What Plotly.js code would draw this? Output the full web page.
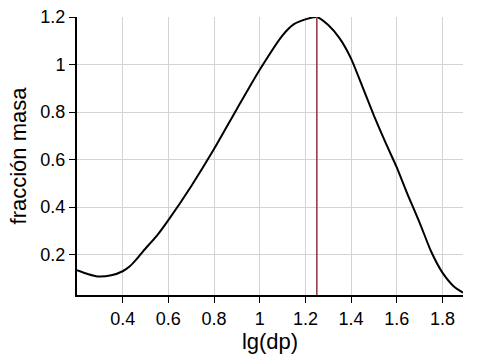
<!DOCTYPE html>
<html><head><meta charset="utf-8">
<script src="https://cdn.plot.ly/plotly-3.0.1.min.js"></script>
<style>html,body{margin:0;padding:0;background:#fff}</style>
</head><body><div id="chart" style="width:482px;height:364px"></div>
<script>
const lgdp = [0.2, 0.25, 0.29, 0.35, 0.4, 0.43, 0.46, 0.49, 0.55, 0.6, 0.7, 0.8, 0.9, 1.0, 1.1, 1.15, 1.2, 1.25, 1.3, 1.35, 1.4, 1.45, 1.5, 1.55, 1.6, 1.65, 1.7, 1.75, 1.8, 1.85, 1.89];
const fraccion = [0.134, 0.117, 0.108, 0.113, 0.13, 0.15, 0.18, 0.215, 0.28, 0.345, 0.488, 0.644, 0.813, 0.978, 1.123, 1.17, 1.19, 1.2, 1.166, 1.11, 1.025, 0.906, 0.785, 0.673, 0.567, 0.447, 0.335, 0.214, 0.124, 0.066, 0.04];
const peakX = 1.25;
const xRange = [0.2, 1.89];
const yRange = [0.03, 1.2];
const xTicks = [0.4, 0.6, 0.8, 1, 1.2, 1.4, 1.6, 1.8];
const yTicks = [0.2, 0.4, 0.6, 0.8, 1, 1.2];

const font = {family: 'Liberation Sans, Arial, sans-serif', color: '#000'};
Plotly.newPlot('chart', [
  {x: lgdp, y: fraccion, mode: 'lines', line: {color: '#000', width: 2, shape: 'spline', smoothing: 0.6}, hoverinfo: 'none'},
  {x: [peakX, peakX], y: yRange, mode: 'lines', line: {color: '#94404a', width: 1.6}, hoverinfo: 'none'}
], {
  width: 482, height: 364,
  margin: {l: 77, r: 19, t: 17, b: 69},
  showlegend: false,
  paper_bgcolor: '#fff', plot_bgcolor: '#fff',
  font: Object.assign({size: 18}, font),
  xaxis: {range: xRange, tickvals: xTicks, showgrid: true, gridcolor: '#d3d3d3', gridwidth: 1,
    zeroline: false, showline: true, linecolor: '#000', linewidth: 2, ticks: 'outside', ticklen: 6, tickcolor: '#000',
    tickfont: Object.assign({size: 18}, font),
    title: {text: 'lg(dp)', font: Object.assign({size: 22}, font), standoff: 6}},
  yaxis: {range: yRange, tickvals: yTicks, showgrid: true, gridcolor: '#d3d3d3', gridwidth: 1,
    zeroline: false, showline: true, linecolor: '#000', linewidth: 2, ticks: 'outside', ticklen: 6, tickcolor: '#000',
    tickfont: Object.assign({size: 18}, font),
    title: {text: 'fracción masa', font: Object.assign({size: 22}, font), standoff: 8}}
}, {displayModeBar: false, staticPlot: true});
</script></body></html>
